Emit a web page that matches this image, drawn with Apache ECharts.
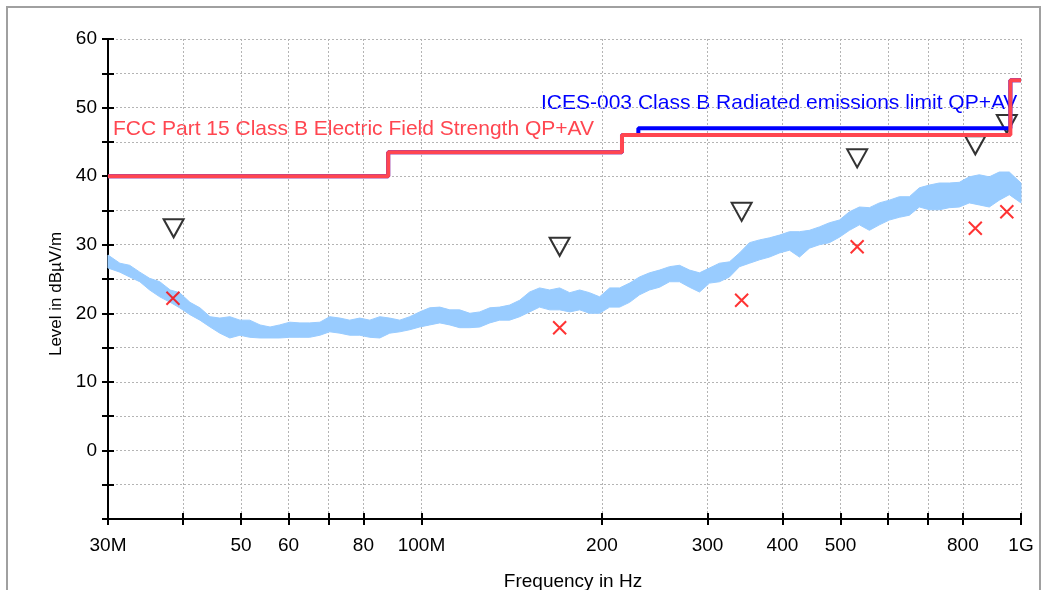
<!DOCTYPE html>
<html>
<head>
<meta charset="utf-8">
<title>Radiated emissions 30M - 1G</title>
<script src="https://cdn.jsdelivr.net/npm/echarts@6/dist/echarts.min.js"></script>
<style>
	html, body { margin: 0; padding: 0; background: #fff; }
	#chart { width: 1046px; height: 590px; }
</style>
</head>
<body>
<div id="chart"></div>
<script>
	// frequency in MHz, level in dBuV/m
	var traceFreq = [30, 31.4, 32.6, 33.9, 35.2, 36.6, 38.1, 39.5, 41.1, 42.7, 44.4, 46.1, 47.9, 49.8, 51.7, 53.8, 55.9, 58.0, 60.3, 62.7,
		65.1, 67.7, 70.3, 73.1, 75.9, 78.9, 82.0, 85.2, 88.5, 92.0, 95.6, 99.3, 103.2, 107.3, 111.5, 115.8, 120.4, 125.1, 130.0, 135.0,
		140.3, 145.8, 151.5, 157.4, 163.6, 170.0, 176.7, 183.6, 190.7, 198.2, 206.0, 214.0, 222.4, 231.1, 240.1, 249.5, 259.3, 269.4, 280.0, 290.9,
		302.3, 314.1, 326.4, 339.2, 352.5, 366.3, 380.6, 395.5, 411.0, 427.1, 443.7, 461.1, 479.1, 497.9, 517.4, 537.6, 558.6, 580.5, 603.2, 626.8,
		651.3, 676.8, 703.3, 730.8, 759.4, 789.1, 820.0, 852.1, 885.4, 920.0, 956.0, 1000];
	var traceHigh = [28.5, 27.3, 27.0, 26.0, 25.1, 24.6, 23.4, 23.0, 21.6, 20.8, 19.5, 19.3, 19.5, 19.0, 19.0, 18.3, 18.0, 18.3, 18.7, 18.6,
		18.6, 18.7, 19.5, 19.3, 19.0, 19.3, 19.0, 19.5, 19.3, 19.0, 19.5, 20.2, 20.8, 20.9, 20.5, 20.5, 20.0, 20.2, 20.8, 20.9,
		21.2, 21.9, 23.1, 23.7, 23.4, 23.7, 23.0, 23.4, 23.0, 22.4, 23.7, 23.7, 24.4, 25.3, 25.9, 26.3, 26.8, 27.0, 26.3, 25.9,
		26.6, 27.3, 27.5, 28.8, 30.3, 30.7, 31.0, 31.4, 31.9, 31.9, 32.1, 32.6, 33.2, 33.6, 34.8, 35.5, 35.4, 36.1, 36.5, 37.0,
		37.0, 38.3, 38.7, 39.0, 39.0, 39.1, 39.9, 40.2, 39.9, 40.6, 40.6, 39.0];
	var traceLow = [26.6, 26.0, 25.3, 24.6, 23.4, 22.4, 21.6, 20.8, 19.8, 19.0, 18.0, 17.1, 16.4, 16.8, 16.5, 16.4, 16.4, 16.4, 16.5, 16.5,
		16.5, 16.8, 17.3, 17.1, 16.8, 16.8, 16.5, 16.4, 17.1, 17.3, 17.6, 18.0, 18.3, 18.6, 18.3, 17.9, 17.9, 18.0, 18.6, 19.0,
		19.0, 19.5, 20.2, 20.9, 20.5, 20.5, 20.2, 20.5, 20.0, 20.0, 20.9, 20.9, 21.6, 22.7, 23.4, 23.8, 24.6, 24.6, 23.8, 23.1,
		24.4, 24.6, 25.3, 26.8, 27.3, 27.8, 28.2, 28.8, 29.2, 28.2, 29.5, 30.0, 30.3, 31.1, 32.1, 32.9, 32.1, 32.9, 33.6, 34.0,
		34.3, 35.5, 35.1, 35.1, 35.4, 35.5, 36.1, 35.8, 35.5, 36.5, 37.3, 36.1];

	var fccFreq = [30, 88, 216, 960, 1000];
	var fccLevel = [40, 43.5, 46, 54, 54];
	var icesFreq = [30, 88, 216, 230, 960, 1000];
	var icesLevel = [40, 43.5, 46, 47, 54, 54];

	var qpFreq = [38.6, 170, 342, 533, 839, 947];
	var qpLevel = [32.4, 29.7, 34.8, 42.6, 44.5, 47.6];
	var avFreq = [38.5, 170, 342, 533, 839, 947];
	var avLevel = [22.2, 17.9, 21.9, 29.7, 32.4, 34.8];

	var tickFreq = [30, 40, 50, 60, 70, 80, 100, 200, 300, 400, 500, 600, 700, 800, 1000];
	var labelFreq = [30, 50, 60, 80, 100, 200, 300, 400, 500, 800, 1000];
	var labelText = ['30M', '50', '60', '80', '100M', '200', '300', '400', '500', '800', '1G'];

	var FONT = "'Liberation Sans', Arial, sans-serif";

	function lg(f) {
		return Math.log10(f);
	}

	function pairs(freq, level) {
		return freq.map(function (f, i) {
			return [lg(f), level[i]];
		});
	}

	var myChart = echarts.init(document.getElementById('chart'));

	var gridLine = {
		show: true,
		lineStyle: { color: '#b4b4b4', width: 1, type: [2, 2] }
	};
	var tickStyle = { color: '#000', width: 2 };

	// the measured trace, drawn as one band between its lower and upper envelope
	function renderTrace(params, api) {
		if (params.dataIndex !== 0) return;
		var pts = [];
		for (var i = 0; i < traceFreq.length; i++) {
			pts.push(api.coord([lg(traceFreq[i]), traceHigh[i]]));
		}
		for (var j = traceFreq.length - 1; j >= 0; j--) {
			pts.push(api.coord([lg(traceFreq[j]), traceLow[j]]));
		}
		return {
			type: 'polygon',
			shape: { points: pts },
			style: { fill: '#99ccff', stroke: '#99ccff', lineWidth: 1 }
		};
	}

	var option = {
		animation: false,
		backgroundColor: '#fff',
		grid: { left: 108, right: 25, top: 39, bottom: 71 },
		xAxis: [{
			type: 'value',
			min: lg(30),
			max: lg(1000),
			axisLine: { show: true, onZero: false, lineStyle: { color: '#000', width: 2 } },
			axisTick: { show: true, customValues: tickFreq.map(lg), length: 6, lineStyle: tickStyle },
			axisLabel: {
				customValues: labelFreq.map(lg),
				color: '#000',
				fontSize: 19,
				fontFamily: FONT,
				margin: 17,
				formatter: function (v) {
					for (var i = 0; i < labelFreq.length; i++) {
						if (Math.abs(lg(labelFreq[i]) - v) < 1e-6) return labelText[i];
					}
					return '';
				}
			},
			splitLine: gridLine
		}, {
			// inner half of the ticks
			type: 'value',
			position: 'bottom',
			min: lg(30),
			max: lg(1000),
			axisLine: { show: false, onZero: false },
			axisTick: { show: true, inside: true, customValues: tickFreq.map(lg), length: 6, lineStyle: tickStyle },
			axisLabel: { show: false },
			splitLine: { show: false }
		}],
		yAxis: [{
			type: 'value',
			min: -10,
			max: 60,
			interval: 5,
			axisLine: { show: true, onZero: false, lineStyle: { color: '#000', width: 2 } },
			axisTick: { show: true, length: 6, lineStyle: tickStyle },
			axisLabel: {
				color: '#000',
				fontSize: 19,
				fontFamily: FONT,
				margin: 11,
				formatter: function (v) {
					return (v % 10 === 0 && v > -10) ? String(v) : '';
				}
			},
			splitLine: gridLine
		}, {
			type: 'value',
			position: 'left',
			min: -10,
			max: 60,
			interval: 5,
			axisLine: { show: false, onZero: false },
			axisTick: { show: true, inside: true, length: 6, lineStyle: tickStyle },
			axisLabel: { show: false },
			splitLine: { show: false }
		}],
		series: [{
			name: 'trace',
			type: 'custom',
			silent: true,
			renderItem: renderTrace,
			encode: { x: 0, y: 1 },
			data: pairs(traceFreq, traceHigh)
		}, {
			name: 'ICES-003',
			type: 'line',
			step: 'end',
			symbol: 'none',
			lineStyle: { color: '#0000ff', width: 4 },
			data: pairs(icesFreq, icesLevel)
		}, {
			name: 'FCC',
			type: 'line',
			step: 'end',
			symbol: 'none',
			lineStyle: { color: '#ff4650', width: 4 },
			data: pairs(fccFreq, fccLevel)
		}, {
			name: 'QP',
			type: 'scatter',
			symbol: 'triangle',
			symbolRotate: 180,
			symbolSize: [20, 18],
			itemStyle: { color: 'rgba(0,0,0,0)', borderColor: '#000', borderWidth: 2 },
			data: pairs(qpFreq, qpLevel)
		}, {
			name: 'AV',
			type: 'scatter',
			symbol: 'path://M0,0L10,10M10,0L0,10',
			symbolSize: 13,
			itemStyle: { color: 'rgba(0,0,0,0)', borderColor: '#ff0000', borderWidth: 2 },
			data: pairs(avFreq, avLevel)
		}],
		graphic: [{
			type: 'rect',
			silent: true,
			shape: { x: 7, y: 7, width: 1033, height: 600 },
			style: { fill: 'none', stroke: '#a0a0a0', lineWidth: 2 }
		}, {
			type: 'text',
			x: 113,
			y: 129,
			style: {
				text: 'FCC Part 15 Class B Electric Field Strength QP+AV',
				fill: '#ff4650',
				font: '21px ' + FONT,
				verticalAlign: 'middle'
			}
		}, {
			type: 'text',
			x: 541,
			y: 103,
			style: {
				text: 'ICES-003 Class B Radiated emissions limit QP+AV',
				fill: '#0000ff',
				font: '21px ' + FONT,
				verticalAlign: 'middle'
			}
		}, {
			type: 'text',
			x: 56,
			y: 294,
			rotation: Math.PI / 2,
			style: {
				text: 'Level in dB\u00b5V/m',
				fill: '#000',
				font: '17px ' + FONT,
				align: 'center',
				verticalAlign: 'middle'
			}
		}, {
			type: 'text',
			x: 573,
			y: 582,
			style: {
				text: 'Frequency in Hz',
				fill: '#000',
				font: '19px ' + FONT,
				align: 'center',
				verticalAlign: 'middle'
			}
		}]
	};

	myChart.setOption(option);
</script>
</body>
</html>
